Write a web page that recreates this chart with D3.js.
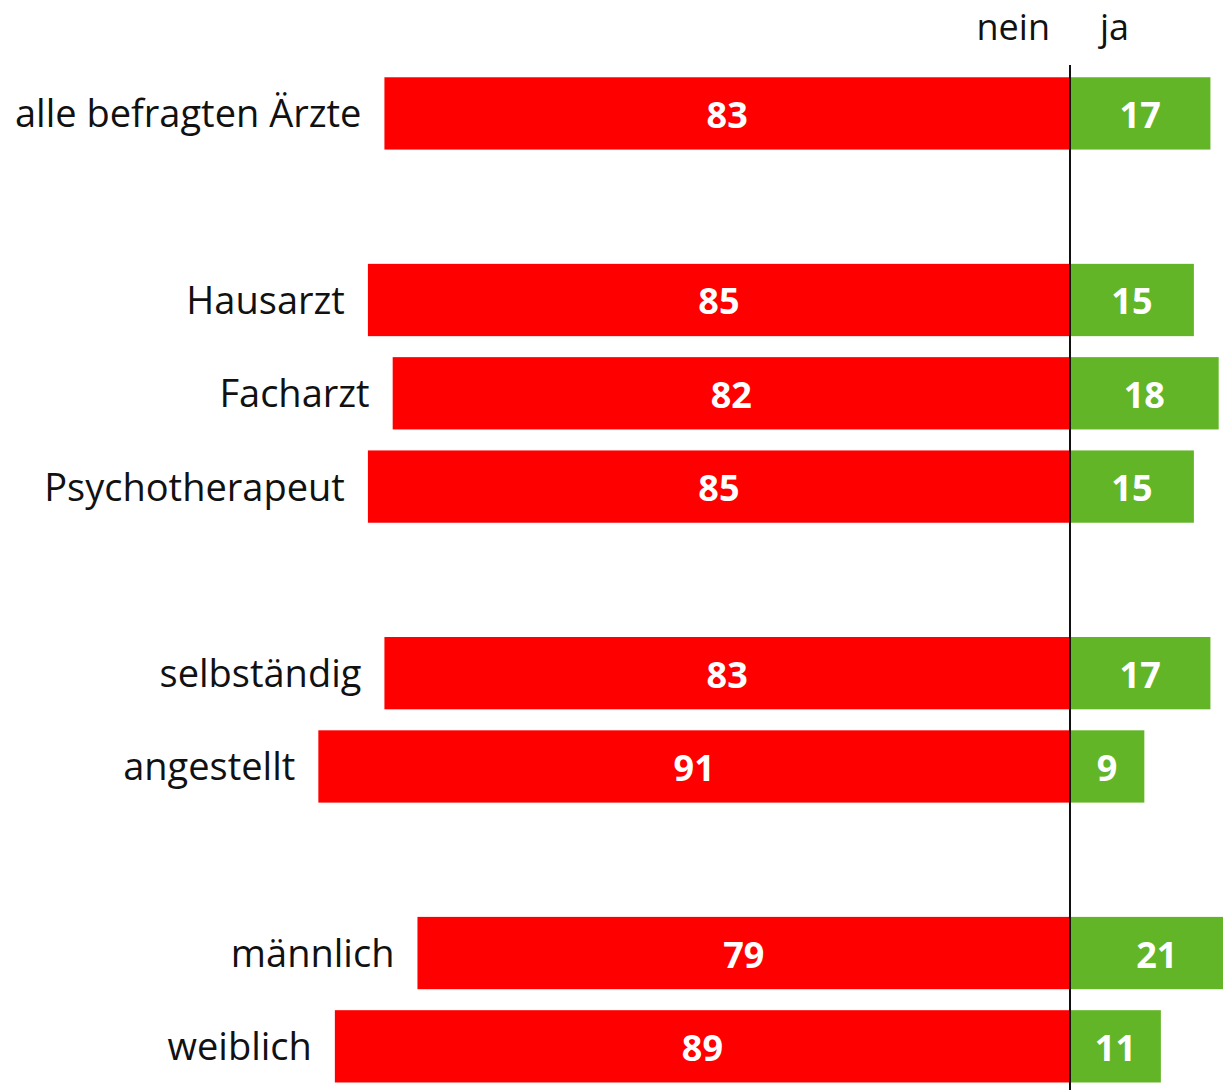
<!DOCTYPE html>
<html>
<head>
<meta charset="utf-8">
<script src="https://cdn.jsdelivr.net/npm/d3@7"></script>
<style>
  html, body { margin: 0; padding: 0; background: #fff; }
  svg { display: block; }
</style>
</head>
<body>
<svg id="chart" width="1223" height="1090"></svg>
<script>
// Row slots; whitespace-only names are spacer rows between groups
const categories = ["alle befragten Ärzte", "", "Hausarzt", "Facharzt", "Psychotherapeut", " ", "selbständig", "angestellt", "  ", "männlich", "weiblich"];
const neinValues = [83, null, 85, 82, 85, null, 83, 91, null, 79, 89];
const jaValues   = [17, null, 15, 18, 15, null, 17, 9, null, 21, 11];
const seriesLabels = ["nein", "ja"];

const width = 1223, height = 1090;
const centerX = 1070;
const pxPerUnit = 8.26;

const svg = d3.select("#chart");

const x = d3.scaleLinear()
  .domain([-100, 100])
  .range([centerX - 100 * pxPerUnit, centerX + 100 * pxPerUnit]);

const y = d3.scaleBand()
  .domain(categories)
  .range([67, 67 + 93.25 * categories.length])
  .paddingInner(0.225)
  .paddingOuter(0.11);

const rows = categories.map((c, i) => ({ cat: c, nein: neinValues[i], ja: jaValues[i] }))
  .filter(d => d.nein != null);

const fontFamily = "'Open Sans', 'Noto Sans', sans-serif";

// "nein" bars extend left from the center
svg.append("g").selectAll("rect")
  .data(rows).join("rect")
  .attr("x", d => x(-d.nein))
  .attr("y", d => y(d.cat))
  .attr("width", d => x(0) - x(-d.nein))
  .attr("height", y.bandwidth())
  .attr("fill", "#ff0000");

// "ja" bars extend right from the center
svg.append("g").selectAll("rect")
  .data(rows).join("rect")
  .attr("x", x(0))
  .attr("y", d => y(d.cat))
  .attr("width", d => x(d.ja) - x(0))
  .attr("height", y.bandwidth())
  .attr("fill", "#62b526");

// Value labels inside bars
const valueStyle = sel => sel
  .attr("fill", "#fff")
  .attr("font-family", fontFamily)
  .attr("font-weight", 700)
  .attr("font-size", 36)
  .attr("text-anchor", "middle")
  .attr("dominant-baseline", "central");

svg.append("g").selectAll("text")
  .data(rows).join("text")
  .attr("x", d => (x(-d.nein) + x(0)) / 2)
  .attr("y", d => y(d.cat) + y.bandwidth() / 2 + 1)
  .text(d => d.nein)
  .call(valueStyle);

svg.append("g").selectAll("text")
  .data(rows).join("text")
  .attr("x", d => (x(d.ja) + x(0)) / 2)
  .attr("y", d => y(d.cat) + y.bandwidth() / 2 + 1)
  .text(d => d.ja)
  .call(valueStyle);

// Category labels, right-aligned against each bar's left end
svg.append("g").selectAll("text")
  .data(rows).join("text")
  .attr("x", d => x(-d.nein) - 23)
  .attr("y", d => y(d.cat) + y.bandwidth() / 2 - 1)
  .attr("dominant-baseline", "central")
  .attr("text-anchor", "end")
  .attr("font-family", fontFamily)
  .attr("font-size", 38)
  .attr("fill", "#111")
  .text(d => d.cat);

// Center divider
svg.append("line")
  .attr("x1", x(0)).attr("x2", x(0))
  .attr("y1", 65).attr("y2", height)
  .attr("stroke", "#111")
  .attr("stroke-width", 2);

// Series headers
svg.append("text")
  .attr("x", x(0) - 20).attr("y", 40)
  .attr("text-anchor", "end")
  .attr("font-family", fontFamily)
  .attr("font-size", 36)
  .attr("fill", "#111")
  .text(seriesLabels[0]);

svg.append("text")
  .attr("x", x(0) + 30).attr("y", 40)
  .attr("text-anchor", "start")
  .attr("font-family", fontFamily)
  .attr("font-size", 36)
  .attr("fill", "#111")
  .text(seriesLabels[1]);
</script>
</body>
</html>
